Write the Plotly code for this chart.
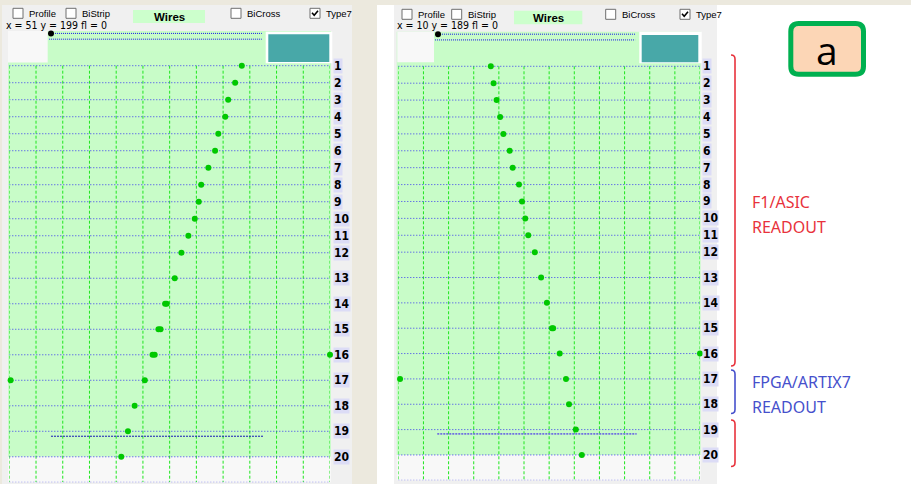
import plotly.graph_objects as go

W, H = 911, 484

# ---------------- data ----------------
wire_labels = [str(i) for i in range(1, 21)]
# wire positions along the chamber (wires 13-20 are spaced 1.5x wider)
wire_pos = [1, 2, 3, 4, 5, 6, 7, 8, 9, 10, 11, 12,
            13.5, 15, 16.5, 18, 19.5, 21, 22.5, 24]
frame_bottom = 25.5
time_cols = list(range(0, 13))          # time grid columns

# drift-time hits per wire (grid units), F1/ASIC readout (left display)
hits_f1 = [8.70, 8.45, 8.19, 8.08, 7.82, 7.70, 7.45, 7.18, 7.09, 6.94,
           6.70, 6.44, 6.19, 5.83, 5.58, 5.36, 5.07, 4.69, 4.44, 4.19]
# secondary / noise hits on the left display
extra_f1_wire = [14, 15, 16, 16, 17]
extra_f1_time = [5.89, 5.66, 5.44, 12.0, 0.05]

# FPGA/ARTIX7 readout (right display)
hits_fpga = [3.68, 3.79, 3.91, 4.05, 4.18, 4.43, 4.55, 4.80, 4.92, 5.05,
             5.17, 5.43, 5.68, 5.91, 6.11, 6.42, 6.67, 6.79, 7.06, 7.30]
extra_fpga_wire = [15, 16, 17]
extra_fpga_time = [6.16, 12.0, 0.07]

# header window markers and fitted track segment
window_y = [-0.9, -0.56]
window_f1 = [[1.56, 9.45], [1.49, 9.45]]
window_fpga = [[1.58, 9.42], [1.46, 9.42]]
track_f1 = {"y": 22.79, "x": [1.56, 9.50]}
track_fpga = {"y": 22.75, "x": [1.55, 9.48]}

cursor_text = ["x = 51 y = 199 fl = 0", "x = 10 y = 189 fl = 0"]


def fx(px):
    return px / W


def fy(py):
    return 1 - py / H


fig = go.Figure()
shapes = []
annotations = []

GREEN_FILL = "#C8FCC8"
PANEL = "#F0F0F0"
TEAL = "#48A8A8"
LABEL_BG = "#DCDCF6"


def rect(x0, y0, x1, y1, fill, line=None, lw=0):
    shapes.append(dict(type="rect", xref="paper", yref="paper", layer="below",
                       x0=fx(x0), x1=fx(x1), y0=fy(y1), y1=fy(y0),
                       fillcolor=fill,
                       line=dict(color=line or fill, width=lw)))


def path(points, color, width, layer="above"):
    d = ""
    for cmd, pts in points:
        d += cmd + " " + " ".join(f"{fx(x):.5f},{fy(y):.5f}" for x, y in pts) + " "
    shapes.append(dict(type="path", xref="paper", yref="paper", path=d.strip(),
                       line=dict(color=color, width=width), layer=layer))


def text(x, y, s, size, color="black", family="Liberation Sans", xanchor="left",
         bold=False, bg=None, pad=0, yref="paper", xref="paper"):
    annotations.append(dict(
        x=fx(x) if xref == "paper" else x, y=fy(y) if yref == "paper" else y,
        xref=xref, yref=yref, text=f"<b>{s}</b>" if bold else s,
        showarrow=False, xanchor=xanchor, yanchor="middle",
        font=dict(size=size, color=color, family=family),
        bgcolor=bg, borderpad=pad))


def checkbox(x, y, checked=False):
    rect(x, y, x + 10, y + 10, "white", "#6E6E6E", 1)
    if checked:
        path([("M", [(x + 2, y + 4.5)]), ("L", [(x + 4.2, y + 7)]),
              ("L", [(x + 8, y + 2.5)])], "black", 1.6)


# ---------------- panel layout ----------------
panels = [
    dict(x0=0, x1=352, gx0=9.3, gx1=330, top=31, bottom=482.3,
         green=(8, 31, 331, 456.7), white=(8, 31, 47.7, 62.5),
         teal_frame=(265.7, 31.7, 332.3, 63.3), teal=(268.3, 34.3, 329.3, 62),
         lower=(8, 456.7, 331, 482.3), label_x=332.5,
         cbs=[(13, 8.3, "Profile"), (66, 8.3, "BiStrip"), (231, 8.3, "BiCross"), (310, 8.3, "Type7")],
         wires=(133, 10, 205, 23), info=(5, 25),
         hits=hits_f1, ex_w=extra_f1_wire, ex_t=extra_f1_time,
         window=window_f1, track=track_f1, track_color="#1414B4", track_dash="2px,1px", track_w=1),
    dict(x0=393, x1=717, gx0=398.3, gx1=700, top=31.8, bottom=480.3,
         green=(396.7, 31.7, 700.7, 455), white=(397.3, 31.7, 434, 62.3),
         teal_frame=(639.3, 31.7, 701.7, 63.3), teal=(641.7, 35, 698.3, 62.3),
         lower=(396.7, 455, 700.7, 480.3), label_x=702,
         cbs=[(402, 9.3, "Profile"), (451.7, 9.3, "BiStrip"), (605.7, 9.3, "BiCross"), (680, 9.3, "Type7")],
         wires=(514, 10.7, 582.3, 24.3), info=(396, 25),
         hits=hits_fpga, ex_w=extra_fpga_wire, ex_t=extra_fpga_time,
         window=window_fpga, track=track_fpga, track_color="#7070E0", track_dash="2px,1px", track_w=1.6),
]

# outer backgrounds
rect(2, 5, 352, 484, PANEL)
rect(377, 5, 911, 484, "white")
rect(394, 5, 717, 484, PANEL)

layout_axes = {}
for i, p in enumerate(panels):
    n = "" if i == 0 else str(i + 1)
    xa, ya = "x" + n, "y" + n

    rect(*p["green"], GREEN_FILL)
    rect(*p["white"], "#F8F8F8")
    rect(*p["teal_frame"], "white")
    rect(*p["teal"], TEAL)
    rect(*p["lower"], "#F8F8F8")

    # header controls
    for (cx, cy, lab) in p["cbs"]:
        checkbox(cx, cy, checked=(lab == "Type7"))
        text(cx + 15, cy + 5, lab, 9.5, family="Liberation Sans")
    wx0, wy0, wx1, wy1 = p["wires"]
    rect(wx0, wy0, wx1, wy1, "#CCFFCC")
    text((wx0 + wx1) / 2, (wy0 + wy1) / 2 + 0.5, "Wires", 11.5, bold=True, xanchor="center")
    text(p["info"][0], p["info"][1], cursor_text[i], 10.5,
         family="Liberation Sans Narrow, DejaVu Sans Condensed, sans-serif")

    # axes
    layout_axes["xaxis" + n] = dict(domain=[fx(p["gx0"]), fx(p["gx1"])], range=[0, 12],
                                    visible=False, anchor=ya)
    layout_axes["yaxis" + n] = dict(domain=[fy(p["bottom"]), fy(p["top"])],
                                    range=[frame_bottom, -1.041], visible=False, anchor=xa)

    # vertical time grid
    vx, vy = [], []
    for c in time_cols:
        vx += [c, c, None]
        vy += [wire_pos[0], frame_bottom, None]
    fig.add_trace(go.Scatter(x=vx, y=vy, mode="lines", xaxis=xa, yaxis=ya,
                             line=dict(color="#1EE61E", width=1, dash="3px,2px"),
                             hoverinfo="skip", showlegend=False))
    # wire lines
    hx, hy = [], []
    for w in wire_pos + [frame_bottom]:
        hx += [time_cols[0], time_cols[-1], None]
        hy += [w, w, None]
    fig.add_trace(go.Scatter(x=hx, y=hy, mode="lines", xaxis=xa, yaxis=ya,
                             line=dict(color="#3A3AF0", width=1, dash="1px,2px"),
                             hoverinfo="skip", showlegend=False))
    # header window lines + cursor
    for wy, (a, b) in zip(window_y, p["window"]):
        fig.add_trace(go.Scatter(x=[a, b], y=[wy, wy], mode="lines", xaxis=xa, yaxis=ya,
                                 line=dict(color="#1818E8", width=1, dash="1px,1px"),
                                 hoverinfo="skip", showlegend=False))
    fig.add_trace(go.Scatter(x=[p["window"][0][0]], y=[window_y[0]], mode="markers",
                             xaxis=xa, yaxis=ya, cliponaxis=False,
                             marker=dict(color="black", size=6), showlegend=False))
    # track segment
    t = p["track"]
    fig.add_trace(go.Scatter(x=t["x"], y=[t["y"], t["y"]], mode="lines", xaxis=xa, yaxis=ya,
                             line=dict(color=p["track_color"], width=p["track_w"], dash=p["track_dash"]),
                             hoverinfo="skip", showlegend=False))
    # hits
    hx_all = list(p["hits"]) + list(p["ex_t"])
    hy_all = list(wire_pos) + [wire_pos[w - 1] for w in p["ex_w"]]
    fig.add_trace(go.Scatter(x=hx_all, y=hy_all, mode="markers", xaxis=xa, yaxis=ya,
                             cliponaxis=False,
                             marker=dict(color="#00C800", size=6, line=dict(width=0)),
                             showlegend=False))
    # wire number labels
    for lab, w in zip(wire_labels, wire_pos):
        annotations.append(dict(x=fx(p["label_x"]), xref="paper", y=w, yref=ya,
                                text=f"<b>{lab}</b>", showarrow=False,
                                xanchor="left", yanchor="middle",
                                font=dict(size=12, color="black",
                                          family="Liberation Sans Narrow, DejaVu Sans Condensed, sans-serif"),
                                bgcolor=LABEL_BG, borderpad=0))

# ---------------- readout brackets ----------------
RED = "#E8323C"
BLUE = "#4650CC"


def bracket(y0, y1, color):
    path([("M", [(731, y0)]), ("Q", [(735, y0), (735, y0 + 4)]),
          ("L", [(735, y1 - 4)]), ("Q", [(735, y1), (731, y1)])], color, 1.6)


bracket(55, 366, RED)
bracket(370, 413.5, BLUE)
bracket(420, 466.5, RED)

text(751, 201.5, "F1/ASIC", 16, color=RED, family="Noto Sans")
text(751, 226.5, "READOUT", 16, color=RED, family="Noto Sans")
text(751, 381.5, "FPGA/ARTIX7", 16, color=BLUE, family="Noto Sans")
text(751, 406.5, "READOUT", 16, color=BLUE, family="Noto Sans")

# panel tag
x0, y0, x1, y1, r = 790.8, 23.5, 863.5, 74.2, 8
path([("M", [(x0 + r, y0)]), ("L", [(x1 - r, y0)]), ("Q", [(x1, y0), (x1, y0 + r)]),
      ("L", [(x1, y1 - r)]), ("Q", [(x1, y1), (x1 - r, y1)]), ("L", [(x0 + r, y1)]),
      ("Q", [(x0, y1), (x0, y1 - r)]), ("L", [(x0, y0 + r)]), ("Q", [(x0, y0), (x0 + r, y0)]),
      ("Z", [])], "#00B050", 5)
shapes[-1]["fillcolor"] = "#FCD6B6"
text(826.5, 49.5, "a", 39, family="Open Sans", xanchor="center")

fig.update_layout(
    width=W, height=H, margin=dict(l=0, r=0, t=0, b=0),
    paper_bgcolor="#ECE9DE", plot_bgcolor="rgba(0,0,0,0)",
    shapes=shapes, annotations=annotations, showlegend=False,
    **layout_axes,
)
fig.write_html("out.html", config={"displayModeBar": False})
